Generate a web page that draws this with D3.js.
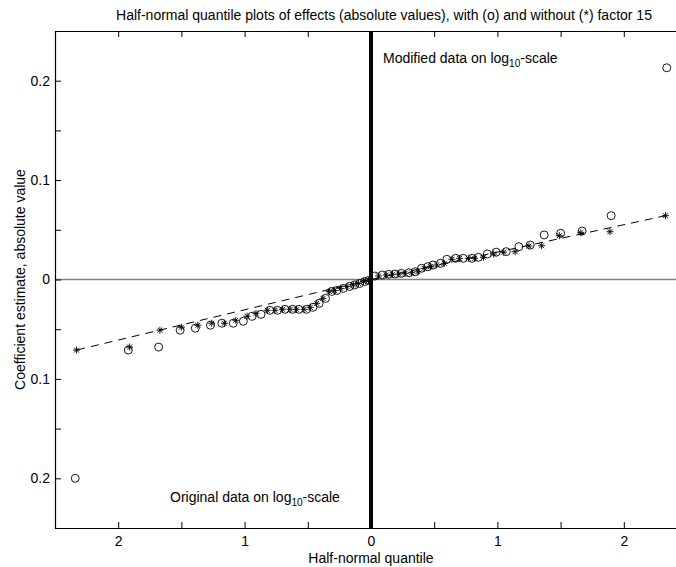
<!DOCTYPE html>
<html>
<head>
<meta charset="utf-8">
<script src="https://cdn.jsdelivr.net/npm/d3@7"></script>
<style>
  body { margin: 0; background: #fff; }
  svg { display: block; font-family: "Liberation Sans", Arial, Helvetica, sans-serif; }
  .tick text { font-size: 14px; fill: #000; }
</style>
</head>
<body>
<div id="chart"></div>
<script>
// values (magnitudes: quantile, |effect|)
// upper half = modified data, lower half = original data
const upCircQ = [2.34, 1.90, 1.67, 1.50, 1.37, 1.26, 1.17, 1.07, 0.99, 0.92, 0.85, 0.80, 0.73, 0.67, 0.60, 0.55, 0.49, 0.45, 0.40, 0.35, 0.30, 0.24, 0.19, 0.14, 0.09, 0.03];
const upCircV = [0.213, 0.0642, 0.0488, 0.0465, 0.0448, 0.0347, 0.0330, 0.0280, 0.0275, 0.0257, 0.0223, 0.0213, 0.0213, 0.0213, 0.0203, 0.0163, 0.0146, 0.0129, 0.0113, 0.0078, 0.0068, 0.0062, 0.0055, 0.0052, 0.0045, 0.0035];
const upStarQ = [2.33, 1.89, 1.66, 1.49, 1.35, 1.25, 1.14, 1.05, 0.97, 0.89, 0.82, 0.77, 0.70, 0.64, 0.58, 0.52, 0.47, 0.42, 0.37, 0.32, 0.27, 0.22, 0.17, 0.12, 0.06];
const upStarV = [0.0642, 0.0481, 0.0471, 0.0441, 0.0340, 0.0337, 0.0280, 0.0275, 0.0257, 0.0223, 0.0213, 0.0213, 0.0213, 0.0203, 0.0163, 0.0146, 0.0129, 0.0113, 0.0078, 0.0068, 0.0062, 0.0055, 0.0052, 0.0045, 0.0035];

const loCircQ = [2.34, 1.92, 1.68, 1.51, 1.39, 1.27, 1.18, 1.09, 1.01, 0.94, 0.87, 0.80, 0.74, 0.68, 0.62, 0.57, 0.51, 0.46, 0.41, 0.36, 0.31, 0.27, 0.22, 0.17, 0.13, 0.09, 0.05, 0.02];
const loCircV = [0.200, 0.071, 0.068, 0.051, 0.049, 0.046, 0.044, 0.044, 0.042, 0.037, 0.035, 0.031, 0.031, 0.030, 0.030, 0.030, 0.030, 0.028, 0.024, 0.019, 0.012, 0.011, 0.009, 0.007, 0.0055, 0.004, 0.002, 0.001];
const loStarQ = [2.33, 1.91, 1.67, 1.50, 1.37, 1.26, 1.16, 1.07, 0.98, 0.91, 0.82, 0.76, 0.70, 0.64, 0.59, 0.53, 0.48, 0.43, 0.38, 0.33, 0.29, 0.24, 0.19, 0.14, 0.10, 0.06, 0.02];
const loStarV = [0.071, 0.068, 0.051, 0.048, 0.046, 0.044, 0.044, 0.041, 0.037, 0.034, 0.031, 0.031, 0.030, 0.030, 0.030, 0.030, 0.028, 0.024, 0.019, 0.012, 0.011, 0.009, 0.007, 0.0055, 0.004, 0.002, 0.001];

// dashed reference lines: origin to the largest star
const upLineQ = [0, 2.33], upLineV = [0, 0.0642];
const loLineQ = [0, 2.33], loLineV = [0, 0.071];

// axes
const xTickVals = [-2, -1.5, -1, -0.5, 0, 0.5, 1, 1.5, 2];
const xLabelVals = [-2, -1, 0, 1, 2];
const yTickVals = [-0.25, -0.2, -0.15, -0.1, -0.05, 0, 0.05, 0.1, 0.15, 0.2, 0.25];
const yLabelVals = [-0.2, -0.1, 0, 0.1, 0.2];

const W = 676, H = 567;

const svg = d3.select("#chart").append("svg")
  .attr("width", W).attr("height", H);

const x = d3.scaleLinear().domain([-2.5, 2.5]).range([55, 687]);
const y = d3.scaleLinear().domain([-0.25, 0.25]).range([528, 31]);

// zero line (grey) and thick divider
svg.append("line")
  .attr("x1", x(-2.5)).attr("x2", x(2.5))
  .attr("y1", y(0)).attr("y2", y(0))
  .attr("stroke", "#808080").attr("stroke-width", 1.5);

svg.append("line")
  .attr("x1", x(0)).attr("x2", x(0))
  .attr("y1", y(0.25)).attr("y2", y(-0.25))
  .attr("stroke", "#000").attr("stroke-width", 4);

// frame + ticks
const fmtX = d => xLabelVals.includes(d) ? String(Math.abs(d)) : "";
const fmtY = d => yLabelVals.some(v => Math.abs(v - d) < 1e-9) ? String(+Math.abs(d).toFixed(2)) : "";

svg.append("g").attr("transform", `translate(0,${y(-0.25)})`)
  .call(d3.axisBottom(x).tickValues(xTickVals).tickFormat(fmtX)
    .tickSizeInner(-6).tickSizeOuter(0).tickPadding(8));

svg.append("g").attr("transform", `translate(0,${y(0.25)})`)
  .call(d3.axisTop(x).tickValues(xTickVals).tickFormat("")
    .tickSizeInner(-6).tickSizeOuter(0));

svg.append("g").attr("transform", `translate(${x(-2.5)},0)`)
  .call(d3.axisLeft(y).tickValues(yTickVals).tickFormat(fmtY)
    .tickSizeInner(-6).tickSizeOuter(0).tickPadding(5));

svg.selectAll(".domain").attr("stroke", "#000").attr("stroke-width", 1.2);
svg.selectAll(".tick line").attr("stroke", "#000");

// dashed lines
const line = d3.line().x(d => x(d[0])).y(d => y(d[1]));
svg.append("path")
  .datum(upLineQ.map((q, i) => [q, upLineV[i]]))
  .attr("d", line).attr("fill", "none").attr("stroke", "#000")
  .attr("stroke-width", 1).attr("stroke-dasharray", "8,6");
svg.append("path")
  .datum(loLineQ.map((q, i) => [-q, -loLineV[i]]))
  .attr("d", line).attr("fill", "none").attr("stroke", "#000")
  .attr("stroke-width", 1).attr("stroke-dasharray", "8,6");

// markers
const circles = upCircQ.map((q, i) => [q, upCircV[i]])
  .concat(loCircQ.map((q, i) => [-q, -loCircV[i]]));
const stars = upStarQ.map((q, i) => [q, upStarV[i]])
  .concat(loStarQ.map((q, i) => [-q, -loStarV[i]]));

svg.append("g").selectAll("circle")
  .data(circles)
  .join("circle")
    .attr("cx", d => x(d[0]))
    .attr("cy", d => y(d[1]))
    .attr("r", 4)
    .attr("fill", "none")
    .attr("stroke", "#000")
    .attr("stroke-width", 0.9);

const s = 3.5, t = 2.5;
const starPath = `M${-s},0H${s}M0,${-s}V${s}M${-t},${-t}L${t},${t}M${-t},${t}L${t},${-t}`;
svg.append("g").selectAll("path")
  .data(stars)
  .join("path")
    .attr("transform", d => `translate(${x(d[0])},${y(d[1])})`)
    .attr("d", starPath)
    .attr("fill", "none")
    .attr("stroke", "#000")
    .attr("stroke-width", 0.9);

// texts
svg.append("text")
  .attr("x", 384).attr("y", 20)
  .attr("text-anchor", "middle").attr("font-size", 14)
  .text("Half-normal quantile plots of effects (absolute values), with (o) and without (*) factor 15");

svg.append("text")
  .attr("x", x(0)).attr("y", 563)
  .attr("text-anchor", "middle").attr("font-size", 14)
  .text("Half-normal quantile");

svg.append("text")
  .attr("transform", `translate(25,${y(0)}) rotate(-90)`)
  .attr("text-anchor", "middle").attr("font-size", 14)
  .text("Coefficient estimate, absolute value");

function logLabel(xx, yy, pre) {
  const t = svg.append("text").attr("x", xx).attr("y", yy).attr("font-size", 14);
  t.append("tspan").text(pre + " on log");
  t.append("tspan").attr("dy", 4).attr("font-size", 10).text("10");
  t.append("tspan").attr("dy", -4).text("-scale");
}
logLabel(383, 63, "Modified data");
logLabel(170, 502, "Original data");
</script>
</body>
</html>
